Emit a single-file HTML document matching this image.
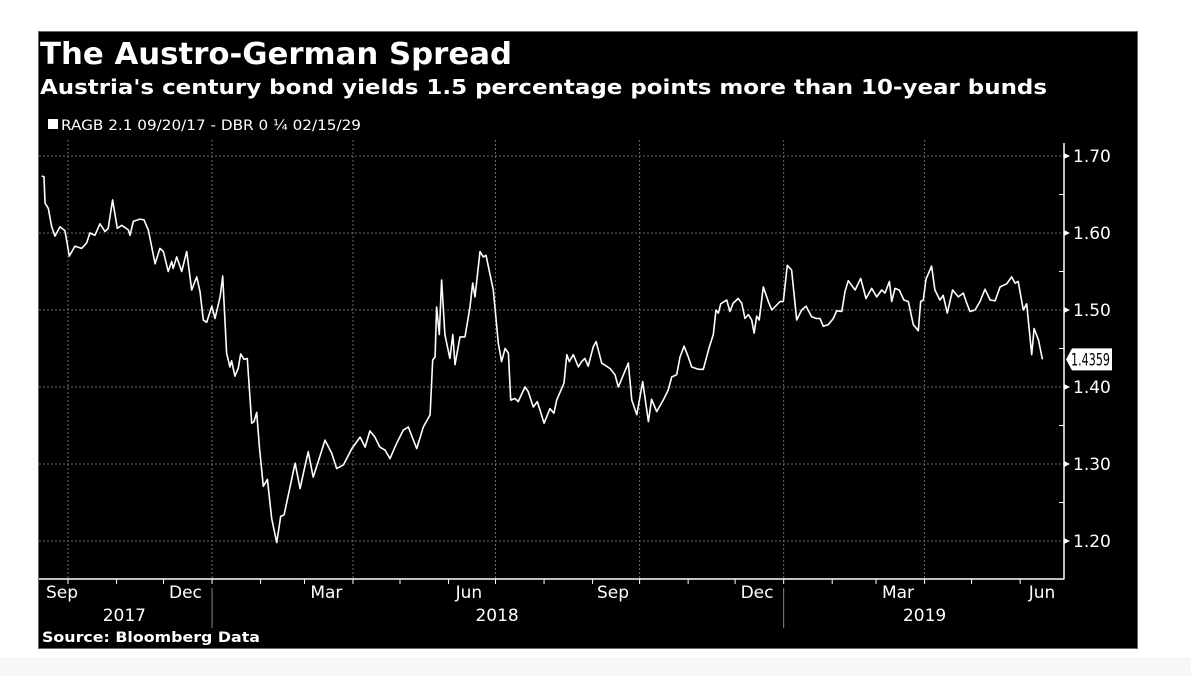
<!DOCTYPE html>
<html><head><meta charset="utf-8">
<style>
html,body{margin:0;padding:0;background:#fff;width:1191px;height:676px;overflow:hidden}
svg{display:block}
text{font-family:"DejaVu Sans","Liberation Sans",sans-serif}
</style></head>
<body>
<svg id="chart" width="1191" height="676" viewBox="0 0 1191 676" xmlns="http://www.w3.org/2000/svg">
  <rect x="0" y="0" width="1191" height="676" fill="#ffffff"/>
  <rect x="0" y="657" width="1191" height="19" fill="#f7f7f7"/>
  <rect x="38.5" y="31.5" width="1099" height="617" fill="#000" stroke="#666" stroke-width="1"/>
  <text x="40" y="64" fill="#fff" font-size="30" font-weight="bold" textLength="472" lengthAdjust="spacingAndGlyphs">The Austro-German Spread</text>
  <text x="40" y="94" fill="#fff" font-size="20" font-weight="bold" textLength="1007" lengthAdjust="spacingAndGlyphs">Austria's century bond yields 1.5 percentage points more than 10-year bunds</text>
  <rect x="48" y="119" width="10" height="10" fill="#fff"/>
  <text x="61" y="130" fill="#fff" font-size="14" font-family="Liberation Sans, sans-serif" textLength="300" lengthAdjust="spacingAndGlyphs">RAGB 2.1 09/20/17 - DBR 0 ¼ 02/15/29</text>
  <g id="grid"></g>
  <g id="axes"></g>
  <g id="series"></g>
  <text x="42" y="642" fill="#fff" font-size="14" font-weight="bold" textLength="218" lengthAdjust="spacingAndGlyphs">Source: Bloomberg Data</text>
</svg>
<script>
// Days since 2017-10-01
const dayOffsets = [-16.8,-15.3,-14.7,-12.6,-10.4,-8.3,-5.1,-1.9,0.8,4.5,8.7,11.9,14.0,17.2,20.4,23.6,25.7,28.5,31.5,34.3,38.5,39.6,41.7,46.0,48.5,51.3,55.6,58.7,60.9,64.0,66.2,67.2,69.4,72.6,75.8,79.0,82.2,84.3,86.4,88.6,91.8,93.9,97.1,98.8,101.3,103.4,104.5,106.6,108.7,110.3,112.4,114.5,117.3,118.8,120.5,122.2,124.7,127.3,130.1,133.3,135.8,138.0,145.0,148.2,150.3,153.4,156.6,159.8,164.1,168.4,171.6,175.9,181.2,186.5,189.7,192.8,196.0,199.2,202.4,205.6,209.9,214.1,217.3,222.7,226.9,231.2,232.9,234.4,235.4,237.1,238.6,240.7,243.9,245.7,247.1,250.3,253.5,256.7,258.4,259.9,263.1,265.2,266.9,271.6,274.8,276.9,279.1,281.2,282.7,285.4,287.5,291.8,293.9,297.1,299.7,304.0,307.8,310.3,312.1,316.7,318.5,320.1,322.7,325.9,328.0,330.1,332.2,335.4,337.2,340.8,346.1,349.3,351.4,357.8,360.0,363.2,367.0,370.6,372.7,375.9,380.1,383.3,385.5,388.7,390.8,393.4,396.1,398.3,402.5,405.7,409.5,412.1,413.8,415.3,416.8,420.6,422.7,424.8,428.0,430.2,432.3,434.4,436.6,438.1,439.8,441.4,444.0,447.2,449.4,454.7,456.8,459.3,462.1,465.3,468.5,471.3,474.9,478.1,480.2,482.3,485.5,488.7,490.9,494.1,496.2,498.3,502.6,506.2,509.6,513.2,516.4,519.6,521.7,524.5,526.0,528.1,530.8,533.8,536.6,539.8,543.0,544.5,546.2,547.9,551.5,553.6,556.8,558.9,561.5,564.9,568.5,571.7,573.9,576.0,579.2,582.4,585.6,588.8,592.0,595.2,599.4,602.6,604.7,606.8,610.0,612.2,615.4,616.9,619.7,622.2];
const spreadValues = [1.674,1.673,1.639,1.632,1.608,1.596,1.608,1.603,1.570,1.583,1.580,1.587,1.600,1.597,1.612,1.602,1.606,1.643,1.606,1.610,1.604,1.597,1.615,1.618,1.617,1.604,1.560,1.580,1.576,1.550,1.563,1.554,1.569,1.550,1.576,1.526,1.543,1.524,1.487,1.484,1.505,1.489,1.517,1.544,1.444,1.426,1.434,1.414,1.424,1.443,1.436,1.437,1.353,1.355,1.367,1.322,1.271,1.280,1.229,1.198,1.232,1.234,1.301,1.268,1.288,1.316,1.283,1.303,1.331,1.314,1.294,1.299,1.320,1.335,1.322,1.343,1.335,1.322,1.318,1.307,1.327,1.344,1.348,1.320,1.348,1.364,1.435,1.439,1.504,1.468,1.539,1.468,1.437,1.468,1.429,1.465,1.465,1.504,1.535,1.517,1.576,1.569,1.571,1.526,1.457,1.433,1.450,1.444,1.383,1.385,1.381,1.400,1.394,1.374,1.381,1.353,1.372,1.366,1.383,1.405,1.442,1.433,1.442,1.426,1.433,1.437,1.427,1.452,1.459,1.431,1.424,1.416,1.400,1.431,1.383,1.364,1.407,1.355,1.384,1.368,1.383,1.396,1.413,1.416,1.439,1.453,1.439,1.426,1.423,1.423,1.452,1.468,1.500,1.496,1.508,1.513,1.498,1.509,1.515,1.509,1.489,1.494,1.487,1.470,1.492,1.487,1.530,1.511,1.500,1.511,1.511,1.558,1.552,1.487,1.500,1.505,1.491,1.489,1.489,1.479,1.481,1.489,1.499,1.498,1.524,1.538,1.526,1.541,1.515,1.528,1.517,1.526,1.522,1.537,1.511,1.528,1.526,1.513,1.511,1.481,1.473,1.511,1.513,1.540,1.557,1.526,1.513,1.519,1.496,1.526,1.517,1.522,1.509,1.498,1.500,1.511,1.527,1.513,1.512,1.530,1.534,1.543,1.535,1.537,1.500,1.508,1.442,1.476,1.461,1.4359];
const yTicks = [1.20,1.30,1.40,1.50,1.60,1.70];
const yTickLabels = ["1.20","1.30","1.40","1.50","1.60","1.70"];
const monthNames = ["Sep","Dec","Mar","Jun","Sep","Dec","Mar","Jun"];
const monthMids = [-16,75,165,256,348,440,530,622];
const gridDays = [0,92,182,273,365,457,547];
const monthStartDays = [-30,0,31,61,92,123,151,182,212,243,273,304,335,365,396,426,457,488,516,547,577,608];
const yearLabels = ["2017","2018","2019"];
const yearPos = [36,274,547];
const yearSeps = [92,457];
const lastLabel = "1.4359";

const NS="http://www.w3.org/2000/svg";
const X0=68, PXD=1.566, PLOT_L=39, PLOT_R=1064, AXIS_Y=579;
function xScale(d){return X0+d*PXD;}
function yScale(v){return 541-(v-1.2)*770;}
function mk(tag,attrs,parent){const e=document.createElementNS(NS,tag);for(const k in attrs)e.setAttribute(k,attrs[k]);parent.appendChild(e);return e;}
const grid=document.getElementById('grid'),axes=document.getElementById('axes'),series=document.getElementById('series');

yTicks.forEach((t,i)=>{
  const y=yScale(t);
  const gl=mk('line',{x1:PLOT_L,x2:PLOT_R,y1:y,y2:y,stroke:'#6a6a6a','stroke-width':1,'stroke-dasharray':'2,2'},grid);
  
  
  const tk=mk('path',{d:`M${PLOT_R} ${y-3} L${PLOT_R+6} ${y} L${PLOT_R} ${y+3}Z`,fill:'#fff'},axes);
  
  
  const tx=mk('text',{x:1073,y:y+6,fill:'#fff','font-size':17,'font-family':'Liberation Sans, sans-serif'},axes);
  tx.textContent=yTickLabels[i];
  
  
});
for(let i=0;i<yTicks.length-1;i++){
  const y=yScale((yTicks[i]+yTicks[i+1])/2);
  const mt=mk('line',{x1:PLOT_R-5,x2:PLOT_R,y1:y,y2:y,stroke:'#fff','stroke-width':1},axes);
  
  
}
gridDays.forEach(d=>{
  const x=xScale(d);
  const gl=mk('line',{x1:x,x2:x,y1:140,y2:AXIS_Y,stroke:'#6a6a6a','stroke-width':1,'stroke-dasharray':'2,2'},grid);
  
  
});
const ra=mk('line',{x1:PLOT_R,x2:PLOT_R,y1:143,y2:AXIS_Y+0.5,stroke:'#fff','stroke-width':1.5},axes);


const xa=mk('line',{x1:PLOT_L,x2:PLOT_R,y1:AXIS_Y,y2:AXIS_Y,stroke:'#fff','stroke-width':1.5},axes);


monthStartDays.forEach(d=>{
  const x=xScale(d);
  if(x<PLOT_L||x>PLOT_R)return;
  const t=mk('line',{x1:x,x2:x,y1:AXIS_Y,y2:AXIS_Y+5,stroke:'#fff','stroke-width':1},axes);
  
  
});
monthNames.forEach((m,i)=>{
  const x=Math.max(62,xScale(monthMids[i]));
  const t=mk('text',{x:x,y:598,fill:'#fff','font-size':17,'text-anchor':'middle','font-family':'Liberation Sans, sans-serif'},axes);
  t.textContent=m;
  
  
});
yearLabels.forEach((yl,i)=>{
  const t=mk('text',{x:xScale(yearPos[i]),y:621,fill:'#fff','font-size':17,'text-anchor':'middle','font-family':'Liberation Sans, sans-serif'},axes);
  t.textContent=yl;
  
  
});
yearSeps.forEach(d=>{
  const x=xScale(d);
  const s=mk('line',{x1:x,x2:x,y1:588,y2:628,stroke:'#888','stroke-width':1},axes);
  
  
});

let dstr='';
dayOffsets.forEach((d,i)=>{dstr+=(i?'L':'M')+xScale(d).toFixed(1)+' '+yScale(spreadValues[i]).toFixed(1);});
const line=mk('path',{d:dstr,fill:'none',stroke:'#fff','stroke-width':1.6,'stroke-linejoin':'round'},series);



const lv=spreadValues[spreadValues.length-1], ly=yScale(lv);
const box=mk('path',{d:`M${PLOT_R+2} ${ly} L${PLOT_R+8} ${ly-11} L1112 ${ly-11} L1112 ${ly+11} L${PLOT_R+8} ${ly+11}Z`,fill:'#fff'},axes);


const bt=mk('text',{x:1071,y:ly+6,fill:'#000','font-size':17,'font-family':'Liberation Sans, sans-serif',textLength:39,lengthAdjust:'spacingAndGlyphs'},axes);
bt.textContent=lastLabel;


</script>
</body></html>
